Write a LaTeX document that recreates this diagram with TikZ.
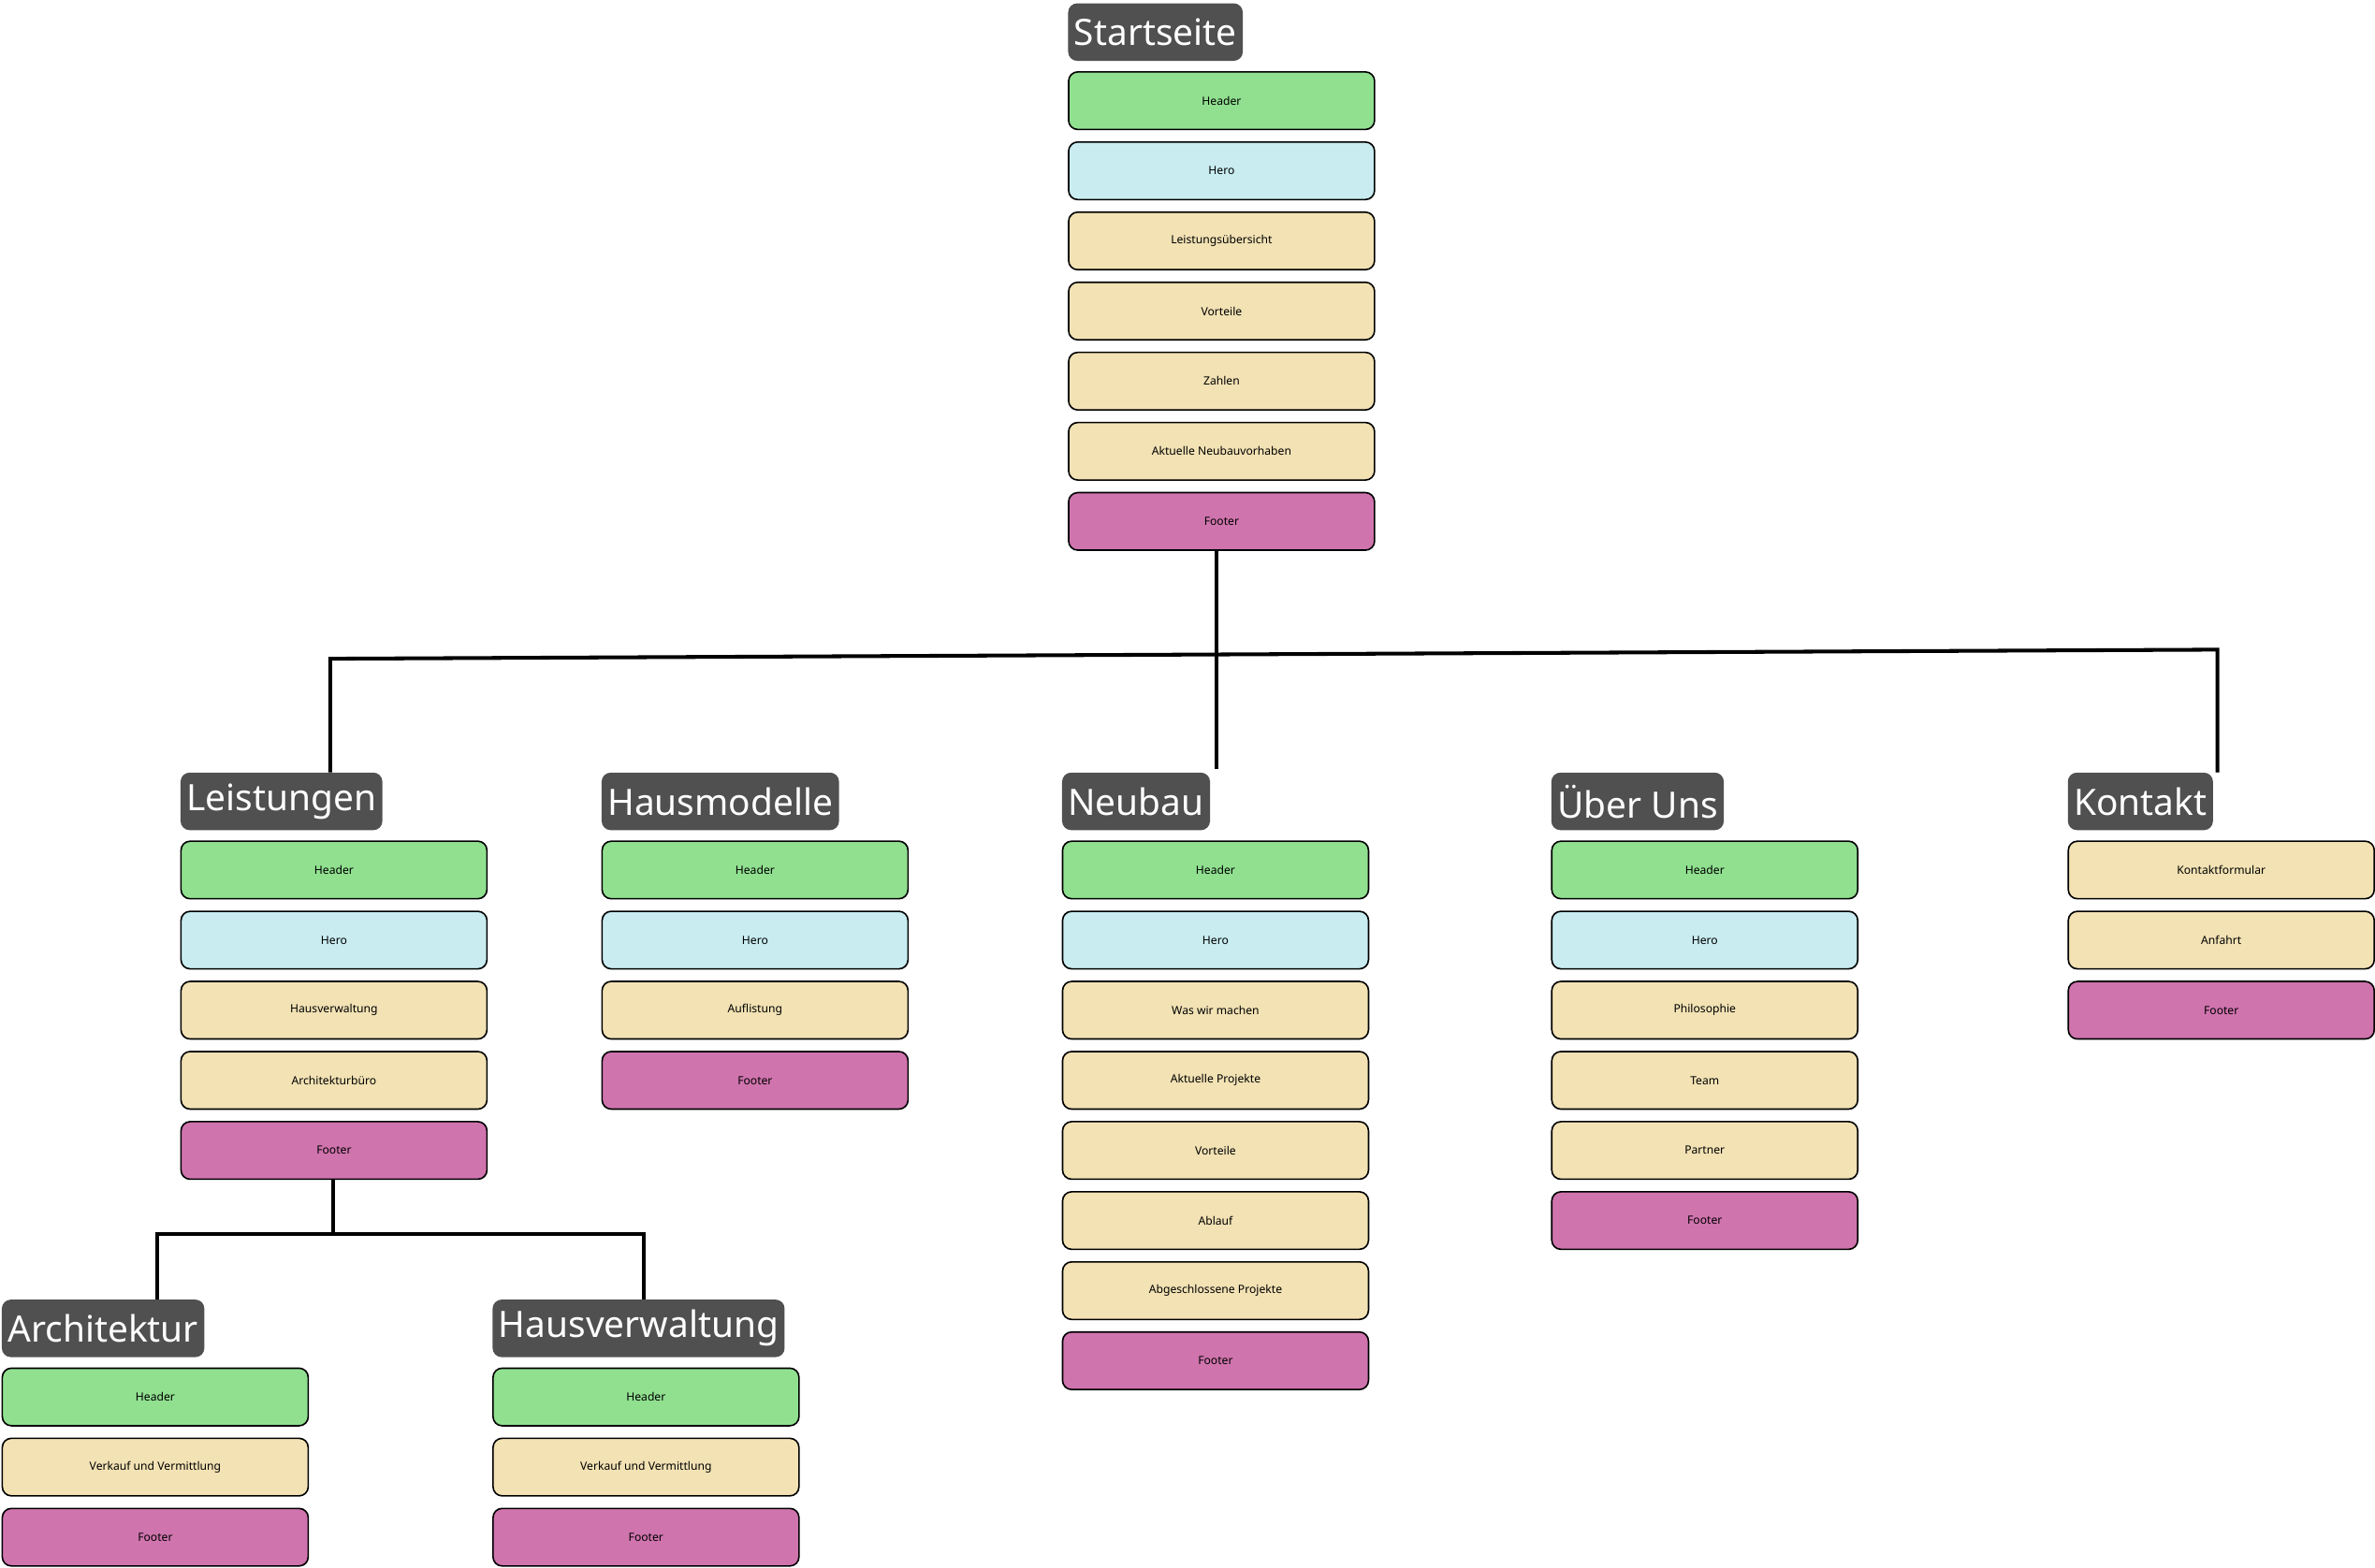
\documentclass[tikz,border=0pt]{standalone}
\usepackage{fontspec}
\setmainfont{Noto Sans}
\definecolor{cgreen}{HTML}{90E090}
\definecolor{cblue}{HTML}{C8ECF0}
\definecolor{cbeige}{HTML}{F2E2B4}
\definecolor{cpink}{HTML}{D074AE}
\definecolor{ctitle}{HTML}{505050}
\tikzset{
  x=1pt,y=-1pt,
  titlebox/.style={fill=ctitle,rounded corners=6pt,text=white,font=\bfseries\fontsize{24}{26}\selectfont,anchor=north west,minimum height=38pt,inner xsep=4pt,inner ysep=0pt},
  secbox/.style={draw=black,line width=1pt,rounded corners=6pt,anchor=north west,minimum width=202pt,minimum height=38pt,font=\bfseries\fontsize{7.5}{9}\selectfont,inner sep=0pt},
  conn/.style={line width=2.5pt},
}
\newcommand\pagecol[5]{%
  \node[titlebox] (#1-t) at (#2,#3) {#4};
  \foreach \c/\t [count=\i from 0] in {#5} {
    \node[secbox,fill=\c] (#1-\i) at (#2,#3+45+\i*46.3) {\t};
  }
}
\begin{document}
\begin{tikzpicture}
\useasboundingbox (0,0) rectangle (1568,1035);
\pagecol{s}{705}{2}{Startseite}{cgreen/Header,cblue/Hero,cbeige/Leistungsübersicht,cbeige/Vorteile / Benefits,cbeige/Zahlen,cbeige/Aktuelle Neubauvorhaben,cpink/Footer}
\pagecol{l}{119}{510}{Leistungen}{cgreen/Header,cblue/Hero,cbeige/Hausverwaltung,cbeige/Architekturbüro,cpink/Footer}
\pagecol{h}{397}{510}{Hausmodelle}{cgreen/Header,cblue/Hero,cbeige/Auflistung,cpink/Footer}
\pagecol{n}{701}{510}{Neubau}{cgreen/Header,cblue/Hero,cbeige/Was wir machen,cbeige/Aktuelle Projekte,cbeige/Vorteile,cbeige/Ablauf / Zusammenarbeit,cbeige/Abgeschlossene Projekte,cpink/Footer}
\pagecol{u}{1024}{510}{Über Uns}{cgreen/Header,cblue/Hero,cbeige/Philosophie / Geschichte,cbeige/Team,cbeige/Partner,cpink/Footer}
\pagecol{k}{1365}{510}{Kontakt}{cbeige/Kontaktformular,cbeige/Anfahrt / Öffnungszeiten,cpink/Footer}
\pagecol{a}{1}{858}{Architektur}{cgreen/Header,cbeige/Verkauf und Vermittlung,cpink/Footer}
\pagecol{v}{325}{858}{Hausverwaltung}{cgreen/Header,cbeige/Verkauf und Vermittlung,cpink/Footer}
\coordinate (jl) at (218,435);
\coordinate (jr) at (1464,429);
\draw[conn] (s-6.south -| 803,0) -- (803,508);
\draw[conn] (l-t.north -| jl) -- (jl) -- (jr) -- (k-t.north -| jr);
\coordinate (j2) at (220,815);
\draw[conn] (l-4.south -| j2) -- (j2);
\draw[conn] (a-t.north -| 104,0) -- (104,815) -- (425,815) -- (v-t.north -| 425,0);
\end{tikzpicture}
\end{document}
